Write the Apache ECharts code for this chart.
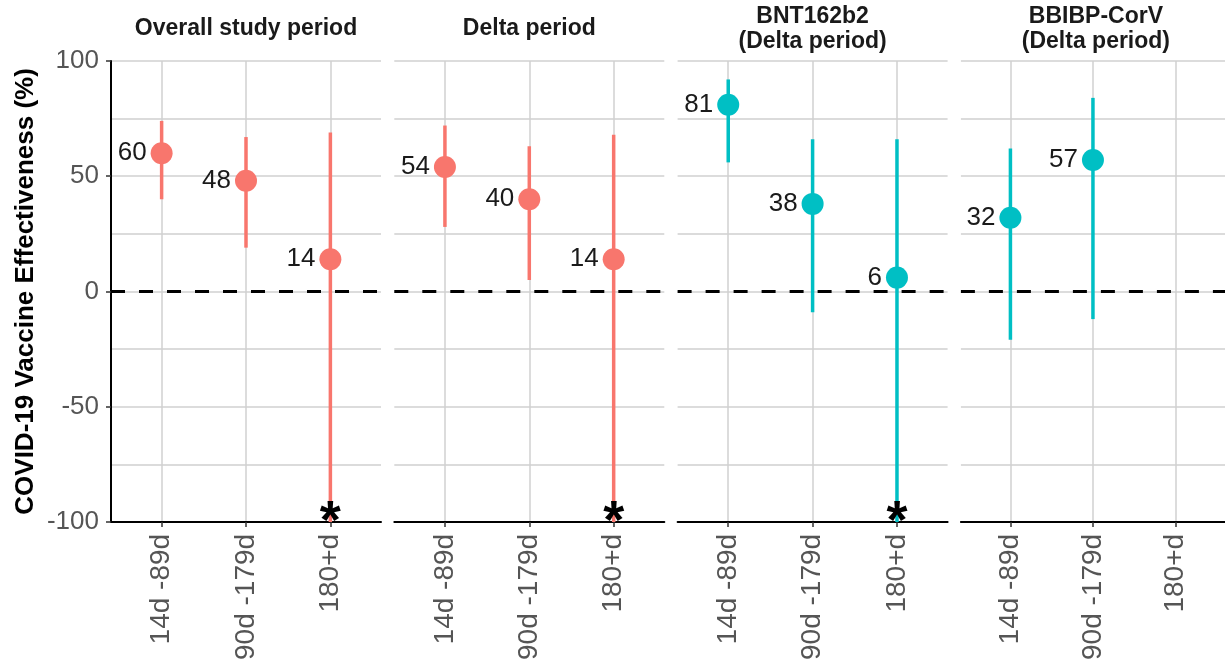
<!DOCTYPE html>
<html><head><meta charset="utf-8">
<script src="https://cdn.jsdelivr.net/npm/echarts@6/dist/echarts.min.js"></script>
<style>html,body{margin:0;padding:0;background:#fff}#c{width:1225px;height:663px}</style>
</head><body><div id="c"></div>
<script>
// ---- data ----
const categories = ['14d -89d', '90d -179d', '180+d'];
const panelTitles = ['Overall study period', 'Delta period', 'BNT162b2\n(Delta period)', 'BBIBP-CorV\n(Delta period)'];
const yTickValues = [-100, -50, 0, 50, 100];

// VE point estimates (%) and 95% CI (lower values of -100 are clipped at the axis floor)
const overallVE    = [60, 48, 14];
const overallLower = [40, 19, -100];
const overallUpper = [74, 67, 69];

const deltaVE    = [54, 40, 14];
const deltaLower = [28, 5, -100];
const deltaUpper = [72, 63, 68];

const bntVE    = [81, 38, 6];
const bntLower = [56, -9, -100];
const bntUpper = [92, 66, 66];

const bbibpVE    = [32, 57, null];
const bbibpLower = [-21, -12, null];
const bbibpUpper = [62, 84, null];

// ---- styling / layout ----
const SALMON = '#F8766D', TEAL = '#00BFC4';
const panels = [
  { title: panelTitles[0], ve: overallVE, lo: overallLower, hi: overallUpper, color: SALMON },
  { title: panelTitles[1], ve: deltaVE,   lo: deltaLower,   hi: deltaUpper,   color: SALMON },
  { title: panelTitles[2], ve: bntVE,     lo: bntLower,     hi: bntUpper,     color: TEAL },
  { title: panelTitles[3], ve: bbibpVE,   lo: bbibpLower,   hi: bbibpUpper,   color: TEAL }
];
const FONT = '"Liberation Sans", Arial, sans-serif';
const LEFT0 = 111, STEP = 283.3, W = 270, TOP = 61, H = 462;
const YMIN = yTickValues[0], YMAX = yTickValues[yTickValues.length - 1];

const grid = [], xAxis = [], yAxis = [], series = [], graphics = [];

panels.forEach((p, k) => {
  const left = LEFT0 + k * STEP;
  grid.push({ left: left, top: TOP, width: W, height: H, containLabel: false });
  xAxis.push({
    gridIndex: k, type: 'value', min: 0.4, max: 3.6,
    axisLine: { show: true, onZero: false, lineStyle: { color: '#000', width: 2 } },
    axisTick: { show: true, customValues: [1, 2, 3], length: 5, lineStyle: { color: '#333', width: 1.5 } },
    axisLabel: {
      show: true, customValues: [1, 2, 3], rotate: 90, margin: 12,
      formatter: v => categories[Math.round(v) - 1] || '',
      fontFamily: FONT, fontSize: 28, color: '#555'
    },
    splitLine: { show: true, lineStyle: { color: '#D0D0D0', width: 1.5 } }
  });
  yAxis.push({
    gridIndex: k, type: 'value', min: YMIN, max: YMAX, interval: 50,
    axisLine: { show: k === 0, lineStyle: { color: '#000', width: 2 } },
    axisTick: { show: k === 0, length: 5, lineStyle: { color: '#333', width: 1.5 } },
    axisLabel: { show: k === 0, margin: 12, fontFamily: FONT, fontSize: 26, color: '#555' },
    splitLine: { show: true, lineStyle: { color: '#D0D0D0', width: 1.5 } },
    minorTick: { show: false, splitNumber: 2 },
    minorSplitLine: { show: true, lineStyle: { color: '#D0D0D0', width: 1.5 } },
    name: k === 0 ? 'COVID-19 Vaccine Effectiveness (%)' : '',
    nameLocation: 'middle', nameGap: 72, nameRotate: 90,
    nameTextStyle: { fontFamily: FONT, fontSize: 26, fontWeight: 'bold', color: '#000' }
  });

  const ciData = [], ptData = [], starData = [];
  categories.forEach((c, i) => {
    if (p.ve[i] == null) return;
    ciData.push([i + 1, p.lo[i], p.hi[i]]);
    ptData.push([i + 1, p.ve[i]]);
    if (p.lo[i] <= YMIN) starData.push([i + 1, YMIN]);
  });

  // error bars
  series.push({
    type: 'custom', xAxisIndex: k, yAxisIndex: k, z: 3, silent: true,
    data: ciData, encode: { x: 0, y: [1, 2] },
    renderItem: (params, api) => {
      const a = api.coord([api.value(0), api.value(1)]);
      const b = api.coord([api.value(0), api.value(2)]);
      return { type: 'line', shape: { x1: a[0], y1: a[1], x2: b[0], y2: b[1] },
               style: { stroke: p.color, lineWidth: 3.5 } };
    },
    markLine: {
      silent: true, symbol: 'none', z: 2, label: { show: false },
      lineStyle: { color: '#000', type: [14, 14], width: 3 },
      data: [{ yAxis: 0 }]
    }
  });
  // points + labels
  series.push({
    type: 'scatter', xAxisIndex: k, yAxisIndex: k, z: 4, silent: true,
    symbol: 'circle', symbolSize: 22, itemStyle: { color: p.color, opacity: 1 },
    data: ptData,
    label: {
      show: true, position: 'left', distance: 4,
      formatter: d => String(d.value[1]),
      fontFamily: FONT, fontSize: 26, color: '#1A1A1A'
    }
  });
  // asterisks for clipped lower limits
  series.push({
    type: 'custom', xAxisIndex: k, yAxisIndex: k, z: 5, silent: true,
    data: starData, encode: { x: 0, y: 1 },
    renderItem: (params, api) => {
      const a = api.coord([api.value(0), api.value(1)]);
      return { type: 'text', x: a[0], y: a[1] + 1,
               style: { text: '*', fill: '#000', fontSize: 54, fontWeight: 'bold', fontFamily: FONT,
                        align: 'center', verticalAlign: 'middle' } };
    }
  });

  graphics.push({
    type: 'text', x: left + W / 2, y: 29,
    style: { text: p.title, align: 'center', verticalAlign: 'middle', fill: '#1A1A1A',
             fontFamily: FONT, fontSize: 23, fontWeight: 'bold', lineHeight: 25 }
  });
});

const chart = echarts.init(document.getElementById('c'), null, { renderer: 'canvas' });
chart.setOption({
  backgroundColor: '#fff',
  animation: false,
  grid, xAxis, yAxis, series,
  graphic: graphics
});
</script></body></html>
